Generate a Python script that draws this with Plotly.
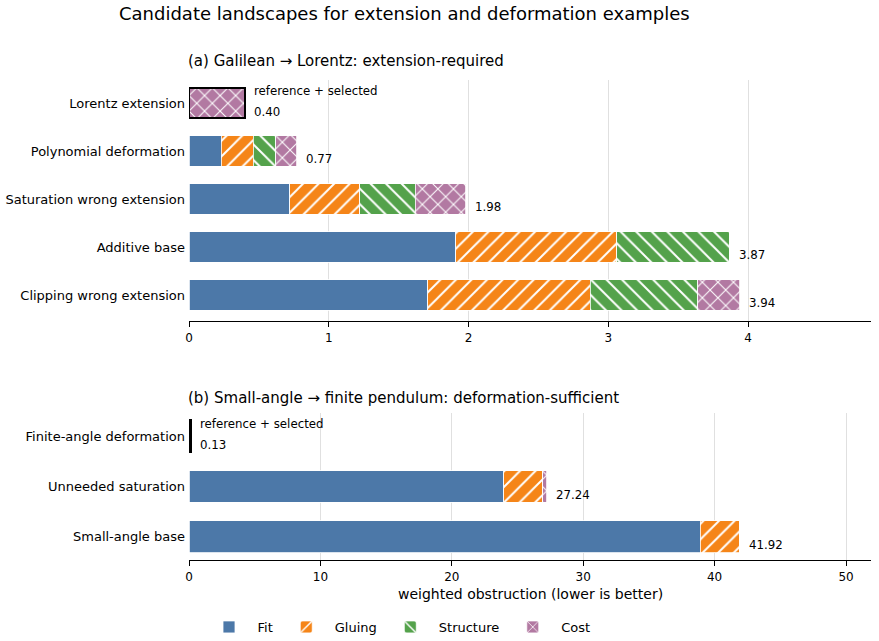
import plotly.graph_objects as go

# ---- data ----
components = ["Fit", "Gluing", "Structure", "Cost"]
colors = ["#4c78a8", "#f58518", "#54a24b", "#b279a2"]
patterns = ["", "/", "\\", "x"]

cats_a = ["Lorentz extension", "Polynomial deformation", "Saturation wrong extension",
          "Additive base", "Clipping wrong extension"]
fit_a = [0.00, 0.23, 0.72, 1.91, 1.71]
glu_a = [0.00, 0.23, 0.50, 1.15, 1.16]
str_a = [0.00, 0.16, 0.40, 0.81, 0.77]
cost_a = [0.40, 0.15, 0.36, 0.00, 0.30]
tot_a = [0.40, 0.77, 1.98, 3.87, 3.94]
sel_a = "Lorentz extension"

cats_b = ["Finite-angle deformation", "Unneeded saturation", "Small-angle base"]
fit_b = [0.00, 23.94, 38.90]
glu_b = [0.00, 2.97, 3.02]
str_b = [0.00, 0.00, 0.00]
cost_b = [0.13, 0.33, 0.00]
tot_b = [0.13, 27.24, 41.92]
sel_b = "Finite-angle deformation"

ticks_a = [0, 1, 2, 3, 4]
ticks_b = [0, 10, 20, 30, 40, 50]

FONT = "DejaVu Sans"
LBL = 11.8
fig = go.Figure()

def make_marker(i, lc="white", lw=0.8):
    marker = dict(color=colors[i], line=dict(color=lc, width=lw))
    if patterns[i]:
        marker["pattern"] = dict(shape=patterns[i], fgcolor="white", bgcolor=colors[i], size=11,
                                 solidity=0.18, fillmode="replace")
    return marker

def add_panel(cats, comps, sel, xa, ya):
    for i, (name, vals) in enumerate(zip(components, comps)):
        lc = ["black" if (c == sel and v > 0) else "white" for c, v in zip(cats, vals)]
        lw = [2.2 if (c == sel and v > 0) else 0.8 for c, v in zip(cats, vals)]
        fig.add_trace(go.Bar(y=cats, x=vals, orientation="h", name=name, marker=make_marker(i, lc, lw),
                             width=0.63, xaxis=xa, yaxis=ya, showlegend=False,
                             legendgroup=name, hoverinfo="skip"))

add_panel(cats_a, [fit_a, glu_a, str_a, cost_a], sel_a, "x", "y")
add_panel(cats_b, [fit_b, glu_b, str_b, cost_b], sel_b, "x2", "y2")

# legend entries (no data drawn)
for i, name in enumerate(components):
    fig.add_trace(go.Bar(y=[None], x=[None], orientation="h", name=name, marker=make_marker(i),
                         xaxis="x", yaxis="y", showlegend=True, legendgroup=name, hoverinfo="skip"))

ann = []
def add_labels(cats, tots, sel, xr, yr):
    for c, t in zip(cats, tots):
        if c == sel:
            ann.append(dict(x=t, y=c, xref=xr, yref=yr, text="reference + selected", showarrow=False,
                            xanchor="left", yanchor="middle", xshift=7, yshift=12,
                            font=dict(size=LBL, family=FONT, color="black")))
            ann.append(dict(x=t, y=c, xref=xr, yref=yr, text=f"{t:.2f}", showarrow=False,
                            xanchor="left", yanchor="middle", xshift=7, yshift=-9,
                            font=dict(size=LBL, family=FONT, color="black")))
        else:
            ann.append(dict(x=t, y=c, xref=xr, yref=yr, text=f"{t:.2f}", showarrow=False,
                            xanchor="left", yanchor="middle", xshift=7, yshift=-8,
                            font=dict(size=LBL, family=FONT, color="black")))

add_labels(cats_a, tot_a, sel_a, "x", "y")
add_labels(cats_b, tot_b, sel_b, "x2", "y2")

ann.append(dict(x=404 / 879, y=1 - 14 / 641, xref="paper", yref="paper", showarrow=False,
                text="Candidate landscapes for extension and deformation examples",
                xanchor="center", yanchor="middle", font=dict(size=18, family=FONT, color="black")))
ann.append(dict(x=189 / 879, y=1 - 61 / 641, xref="paper", yref="paper", showarrow=False, xshift=-3,
                text="(a) Galilean → Lorentz: extension-required",
                xanchor="left", yanchor="middle", font=dict(size=15, family=FONT, color="black")))
ann.append(dict(x=189 / 879, y=1 - 398 / 641, xref="paper", yref="paper", showarrow=False, xshift=-3,
                text="(b) Small-angle → finite pendulum: deformation-sufficient",
                xanchor="left", yanchor="middle", font=dict(size=15, family=FONT, color="black")))
ann.append(dict(x=530 / 879, y=1 - 594 / 641, xref="paper", yref="paper", showarrow=False,
                text="weighted obstruction (lower is better)",
                xanchor="center", yanchor="middle", font=dict(size=14, family=FONT, color="black")))

xcommon = dict(showgrid=True, gridcolor="rgba(204,204,204,0.6)", gridwidth=1,
               showline=True, linecolor="black", linewidth=1.2, ticks="outside", ticklen=5,
               tickcolor="black", zeroline=False, layer="above traces", automargin=False,
               tickfont=dict(size=12, family=FONT, color="black"))
ycommon = dict(showgrid=False, showline=False, ticks="", zeroline=False, automargin=False,
               tickfont=dict(size=13, family=FONT, color="black"), ticklabelstandoff=3)

fig.update_layout(
    width=879, height=641, margin=dict(l=0, r=0, t=0, b=0, autoexpand=False),
    paper_bgcolor="white", plot_bgcolor="white", barmode="stack", bargap=0.37,
    font=dict(family=FONT, color="black"),
    xaxis=dict(domain=[189 / 879, 871 / 879], range=[0, 4.88], tickvals=ticks_a, anchor="y", **xcommon),
    yaxis=dict(domain=[1 - 321 / 641, 1 - 80 / 641], range=[4.54, -0.48], anchor="x", **ycommon),
    xaxis2=dict(domain=[189 / 879, 871 / 879], range=[0, 51.9], tickvals=ticks_b, anchor="y2", **xcommon),
    yaxis2=dict(domain=[1 - 560 / 641, 1 - 413 / 641], range=[2.46, -0.46], anchor="x2", **ycommon),
    annotations=ann,
    legend=dict(orientation="h", x=398 / 879, y=1 - 627 / 641, xanchor="center", yanchor="middle",
                font=dict(size=13, family=FONT, color="black"), itemwidth=47, bgcolor="rgba(0,0,0,0)",
                traceorder="normal"),
)

fig.write_html("out.html")
